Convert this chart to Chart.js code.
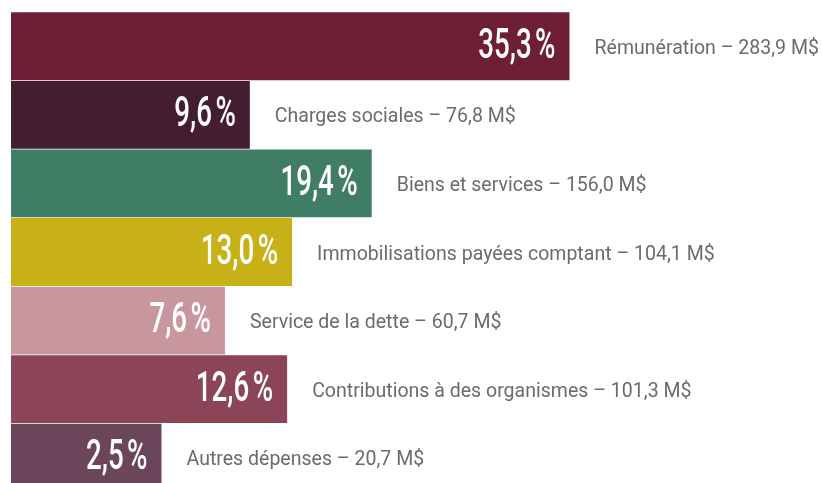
<!DOCTYPE html>
<html lang="fr">
<head>
<meta charset="utf-8">
<script src="https://cdn.jsdelivr.net/npm/chart.js@4/dist/chart.umd.min.js"></script>
<style>
  html, body { margin: 0; padding: 0; background: #ffffff; overflow: hidden; }
  canvas { display: block; }
</style>
</head>
<body>
<canvas id="c" width="822" height="492"></canvas>
<script>
// ---- Data ----
const categories = [
  'Rémunération',
  'Charges sociales',
  'Biens et services',
  'Immobilisations payées comptant',
  'Service de la dette',
  'Contributions à des organismes',
  'Autres dépenses'
];
const sharePct = [35.3, 9.6, 19.4, 13.0, 7.6, 12.6, 2.5];
const amountsM = [283.9, 76.8, 156.0, 104.1, 60.7, 101.3, 20.7];
const barColors = ['#6f1f35', '#431e31', '#3f7e64', '#c8b017', '#c8979e', '#8b4557', '#6b4559'];

// ---- Layout / style ----
const AXIS_MIN = -9.6;
const AXIS_MAX = 55.6;

const fr = v => v.toFixed(1).replace('.', ',');

const labelPlugin = {
  id: 'barLabels',
  afterDatasetsDraw(chart) {
    const ctx = chart.ctx;
    const meta = chart.getDatasetMeta(0);
    meta.data.forEach((bar, i) => {
      // percentage inside the bar, white, condensed
      ctx.save();
      ctx.translate(bar.x - 14, bar.y + 11.5);
      ctx.scale(0.66, 1);
      ctx.font = '500 42px Roboto';
      ctx.fillStyle = '#ffffff';
      ctx.textAlign = 'right';
      ctx.textBaseline = 'alphabetic';
      ctx.fillText(fr(sharePct[i]) + '\u202f%', 0, 0);
      ctx.restore();
      // category label outside the bar, grey, condensed
      ctx.save();
      ctx.translate(bar.x + 25, bar.y + 7.5);
      ctx.scale(0.93, 1);
      ctx.font = '400 21px Roboto';
      ctx.fillStyle = '#6b6b6b';
      ctx.textAlign = 'left';
      ctx.textBaseline = 'alphabetic';
      ctx.fillText(categories[i] + ' \u2013 ' + fr(amountsM[i]) + '\u00a0M$', 0, 0);
      ctx.restore();
    });
  }
};

new Chart(document.getElementById('c'), {
  type: 'bar',
  data: {
    labels: categories,
    datasets: [{
      data: sharePct,
      backgroundColor: barColors,
      base: AXIS_MIN,
      borderWidth: 0,
      barPercentage: 0.99,
      categoryPercentage: 1
    }]
  },
  options: {
    indexAxis: 'y',
    responsive: false,
    animation: false,
    devicePixelRatio: 1,
    layout: { padding: { left: 11, top: 12, right: 0, bottom: 0 } },
    scales: {
      x: { display: false, min: AXIS_MIN, max: AXIS_MAX },
      y: { display: false }
    },
    plugins: {
      legend: { display: false },
      tooltip: { enabled: false }
    }
  },
  plugins: [labelPlugin]
});
</script>
</body>
</html>
